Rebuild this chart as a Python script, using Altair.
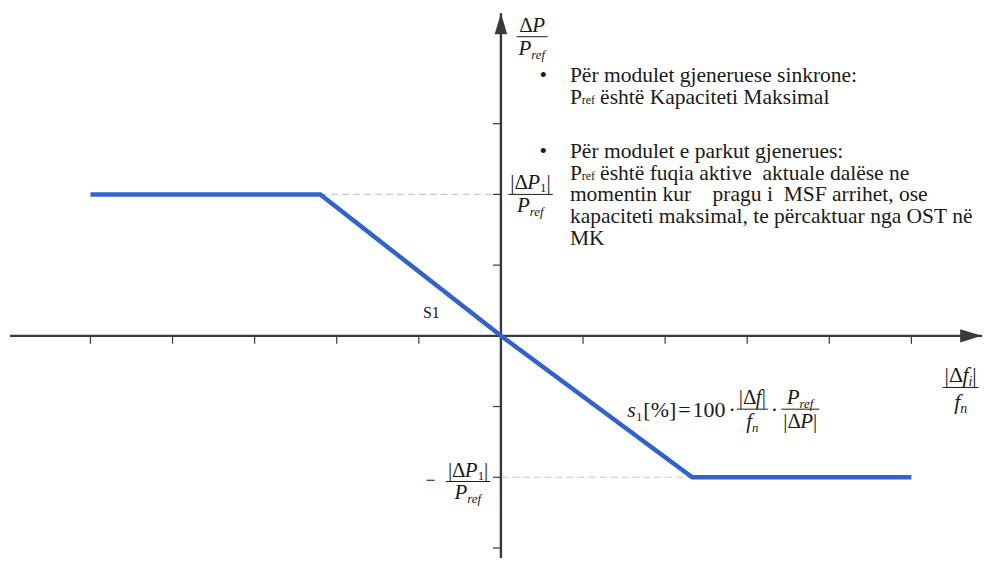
import altair as alt
import pandas as pd

# ---------------- data ----------------
CURVE_X = [-5.0, -2.2, 0.0, 2.33, 5.0]
CURVE_Y = [2.0, 2.0, 0.0, -2.0, -2.0]
X_TICKS = [-5, -4, -3, -2, -1, 1, 2, 3, 4, 5]
Y_TICKS = [-3, -2, -1, 1, 2, 3]
X_DOMAIN = [-5.98, 5.86]
Y_DOMAIN = [-3.14, 4.62]
Y_TIP = 4.56

NB = "\u00a0"
BODY_LINES = [
    ("bullet", "Për modulet gjeneruese sinkrone:"),
    ("pref", "është Kapaciteti Maksimal"),
    ("bullet", "Për modulet e parkut gjenerues:"),
    ("pref", "është fuqia aktive" + NB + " aktuale dalëse ne"),
    ("plain", "momentin kur" + NB * 3 + " pragu i" + NB + " MSF arrihet, ose"),
    ("plain", "kapaciteti maksimal, te përcaktuar nga OST në"),
    ("plain", "MK"),
]
BODY_BASELINES = [3.59, 3.28, 2.51, 2.21, 1.90, 1.59, 1.28]

W = 976
H = 551
PX_X = W / (X_DOMAIN[1] - X_DOMAIN[0])
PX_Y = H / (Y_DOMAIN[1] - Y_DOMAIN[0])

FONT = "Liberation Serif"
INK = "#1a1a1a"
AXIS = "#3a3a3a"
BLUE = "#3063cc"

# approximate Times advance widths (em)
W_ROMAN = {' ': 0.25, NB: 0.25, '|': 0.2, 'Δ': 0.612, '1': 0.5, '0': 0.5, '%': 0.833,
           '[': 0.333, ']': 0.333, '=': 0.564, '·': 0.25, '−': 0.564, 'S': 0.556,
           'P': 0.556, 'r': 0.333, 'e': 0.444, 'f': 0.333, '•': 0.35}
W_ITALIC = {'P': 0.611, 'f': 0.278, 'r': 0.389, 'e': 0.444, 'i': 0.278, 'n': 0.5, 's': 0.389}

rows = []
bars = []


def seg_width(text, size, italic):
    table = W_ITALIC if italic else W_ROMAN
    return sum(table.get(c, 0.5) for c in text) * size


def run(segs, x0, y0):
    off = 0.0
    for s in segs:
        if isinstance(s, (int, float)):
            off += s
            continue
        text, size, italic, dy = s
        rows.append(dict(t=text, s=size, it=italic,
                         x=x0 + off / PX_X, y=y0 - dy / PX_Y))
        off += seg_width(text, size, italic)
    return off


def width(segs):
    tot = 0.0
    for s in segs:
        if isinstance(s, (int, float)):
            tot += s
        else:
            tot += seg_width(s[0], s[1], s[2])
    return tot


def frac(num, den, cx, cy, up=5, dn=18, pad=2):
    wn, wd = width(num), width(den)
    w = max(wn, wd) + 2 * pad
    run(num, cx - wn / 2 / PX_X, cy + up / PX_Y)
    run(den, cx - wd / 2 / PX_X, cy - dn / PX_Y)
    bars.append(dict(x=cx - w / 2 / PX_X, x2=cx + w / 2 / PX_X, y=cy))
    return w


PREF_M = [("P", 21, True, 0), ("ref", 13, True, 4)]
DP1 = [("|Δ", 21, False, 0), ("P", 21, True, 0), ("1", 13, False, 3), ("|", 21, False, 0)]

# axis labels
frac([("Δ", 21, False, 0), ("P", 21, True, 0)], PREF_M, 0.38, 4.23)
frac(DP1, PREF_M, 0.36, 2.0)
frac(DP1, PREF_M, -0.40, -2.06)
run([("−", 18, False, 0)], -0.92, -2.13)
frac([("|Δ", 22, False, 0), ("f", 22, True, 0), ("i", 14, True, 4), ("|", 22, False, 0)],
     [("f", 22, True, 0), ("n", 14, True, 4)], 5.60, -0.73, up=5, dn=22)

# slope label
run([("S1", 16, False, 0)], -0.95, 0.25)

# droop formula
fx, fy = 1.54, -1.15
off = run([("s", 22, True, 0), ("1", 13, False, 4), 1, ("[%]", 22, False, 0), 2,
           ("=", 22, False, 0), 2, ("100", 22, False, 0), 3, ("·", 22, False, 0), 3], fx, fy)
bar_y = fy + 8 / PX_Y
n1 = [("|Δ", 21, False, 0), ("f", 21, True, 0), ("|", 21, False, 0)]
d1 = [("f", 21, True, 0), ("n", 13, True, 4)]
w1 = max(width(n1), width(d1)) + 4
frac(n1, d1, fx + (off + w1 / 2) / PX_X, bar_y, up=5, dn=19)
off += w1 + 3
off2 = run([("·", 22, False, 0)], fx + off / PX_X, fy)
off += off2 + 4
n2 = [("P", 21, True, 0), ("ref", 13, True, 4)]
d2 = [("|Δ", 21, False, 0), ("P", 21, True, 0), ("|", 21, False, 0)]
w2 = max(width(n2), width(d2)) + 6
frac(n2, d2, fx + (off + w2 / 2) / PX_X, bar_y, up=5, dn=19)

# body text
BODY_X = 0.84
BULLET_X = 0.47
BODY_SIZE = 21.6
for (kind, text), yb in zip(BODY_LINES, BODY_BASELINES):
    if kind == "bullet":
        run([("•", BODY_SIZE, False, 0)], BULLET_X, yb)
        run([(text, BODY_SIZE, False, 0)], BODY_X, yb)
    elif kind == "pref":
        run([("P", BODY_SIZE, False, 0), ("ref", 12, False, 0), 5, (text, BODY_SIZE, False, 0)],
            BODY_X, yb)
    else:
        run([(text, BODY_SIZE, False, 0)], BODY_X, yb)

texts = pd.DataFrame(rows)
bars_df = pd.DataFrame(bars)

xs = alt.Scale(domain=X_DOMAIN, nice=False, zero=False)
ys = alt.Scale(domain=Y_DOMAIN, nice=False, zero=False)


def X(f="x"):
    return alt.X(f"{f}:Q", scale=xs, axis=None)


def Y(f="y"):
    return alt.Y(f"{f}:Q", scale=ys, axis=None)


curve = pd.DataFrame({"x": CURVE_X, "y": CURVE_Y, "o": range(len(CURVE_X))})
guides = pd.DataFrame({"x": [CURVE_X[1], 0.0], "x2": [0.0, CURVE_X[3]],
                       "y": [CURVE_Y[1], CURVE_Y[3]]})
xaxis = pd.DataFrame({"x": [X_DOMAIN[0]], "x2": [X_DOMAIN[1]], "y": [0.0]})
yaxis = pd.DataFrame({"x": [0.0], "y": [Y_DOMAIN[0]], "y2": [Y_TIP]})
xt = pd.DataFrame({"x": X_TICKS, "y": [0.0] * len(X_TICKS)})
yt = pd.DataFrame({"x": [0.0] * len(Y_TICKS), "y": Y_TICKS})

guide_layer = alt.Chart(guides).mark_rule(color="#c9c9c9", strokeWidth=1.2, strokeDash=[7, 4]).encode(
    x=X(), x2="x2:Q", y=Y())
xaxis_layer = alt.Chart(xaxis).mark_rule(color=AXIS, strokeWidth=2.4).encode(x=X(), x2="x2:Q", y=Y())
yaxis_layer = alt.Chart(yaxis).mark_rule(color=AXIS, strokeWidth=2.4).encode(x=X(), y=Y(), y2="y2:Q")
xtick_layer = alt.Chart(xt).mark_point(shape="M0,0L0,2", size=64, filled=False, color=AXIS,
                                       strokeWidth=1.2, opacity=1).encode(x=X(), y=Y())
ytick_layer = alt.Chart(yt).mark_point(shape="M0,0L-2,0", size=64, filled=False, color=AXIS,
                                       strokeWidth=1.2, opacity=1).encode(x=X(), y=Y())
xarrow = alt.Chart(pd.DataFrame({"x": [X_DOMAIN[1]], "y": [0.0]})).mark_point(
    shape="M-2,-0.6L0,0L-2,0.6Z", size=484, filled=True, color=AXIS, opacity=1).encode(x=X(), y=Y())
yarrow = alt.Chart(pd.DataFrame({"x": [0.0], "y": [Y_TIP]})).mark_point(
    shape="M-0.6,2L0,0L0.6,2Z", size=440, filled=True, color=AXIS, opacity=1).encode(x=X(), y=Y())
curve_layer = alt.Chart(curve).mark_line(color=BLUE, strokeWidth=4.5, strokeCap="butt").encode(
    x=X(), y=Y(), order="o:Q")
bar_layer = alt.Chart(bars_df).mark_rule(color=INK, strokeWidth=1).encode(x=X(), x2="x2:Q", y=Y())


def text_layer(df, italic):
    return alt.Chart(df).mark_text(
        align="left", baseline="alphabetic", font=FONT, color=INK,
        fontStyle="italic" if italic else "normal"
    ).encode(
        x=X(), y=Y(), text="t:N", size=alt.Size("s:Q", scale=None, legend=None))


roman_layer = text_layer(texts[~texts.it], False)
italic_layer = text_layer(texts[texts.it], True)

chart = alt.layer(
    guide_layer, xaxis_layer, yaxis_layer, xtick_layer, ytick_layer, xarrow, yarrow,
    curve_layer, bar_layer, roman_layer, italic_layer
).properties(width=W, height=H, padding=0, background="white").configure(
    font=FONT).configure_text(font=FONT).configure_view(stroke=None)

chart.save("out.html", embed_options={"renderer": "svg", "actions": False})
